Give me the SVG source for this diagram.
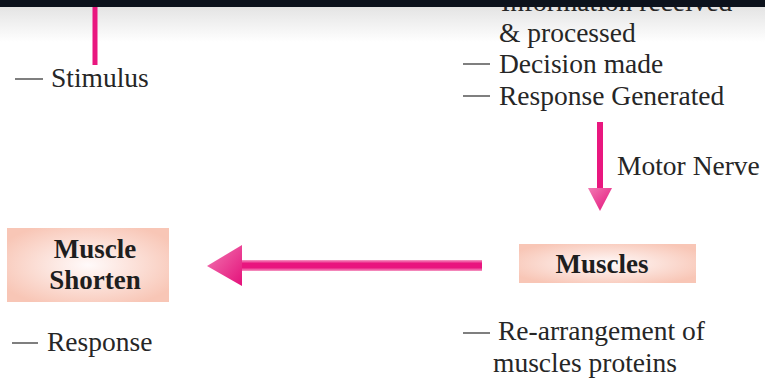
<svg xmlns="http://www.w3.org/2000/svg" width="765" height="380" viewBox="0 0 765 380">
<defs>
<linearGradient id="topShade" x1="0" y1="0" x2="0" y2="1">
<stop offset="0" stop-color="#e4e4e4"/>
<stop offset="1" stop-color="#ffffff"/>
</linearGradient>
<radialGradient id="boxFill" cx="0.5" cy="0.5" r="0.6">
<stop offset="0" stop-color="#fffafa"/>
<stop offset="1" stop-color="#f8c6b6"/>
</radialGradient>
<linearGradient id="shaftFill" x1="0" y1="0" x2="0" y2="1">
<stop offset="0" stop-color="#f59ac4"/>
<stop offset="0.3" stop-color="#e9157f"/>
<stop offset="0.7" stop-color="#e9157f"/>
<stop offset="1" stop-color="#f59ac4"/>
</linearGradient>
<linearGradient id="headFill" x1="0" y1="0" x2="1" y2="1">
<stop offset="0" stop-color="#f27ab3"/>
<stop offset="1" stop-color="#e4107a"/>
</linearGradient>
<style>
.t{font-family:"Liberation Serif","Times New Roman",serif;font-size:27.5px;fill:#262626}
.b{font-family:"Liberation Serif","Times New Roman",serif;font-size:27px;font-weight:bold;fill:#1e1e1e;text-anchor:middle}
.dash{stroke:#555;stroke-width:1.5}
.pink{fill:#e9177f}
</style>
</defs>
<rect width="765" height="380" fill="#ffffff"/>
<rect x="0" y="7" width="765" height="35" fill="url(#topShade)"/>
<g id="brain-notes">
<text class="t" x="501" y="11">Information received</text>
<text class="t" x="499" y="42">&amp; processed</text>
<line class="dash" x1="463" y1="64" x2="490" y2="64"/>
<text class="t" x="499" y="73">Decision made</text>
<line class="dash" x1="463" y1="96" x2="490" y2="96"/>
<text class="t" x="499" y="105">Response Generated</text>
</g>
<rect x="0" y="0" width="765" height="7" fill="#0c121c"/>
<g id="stimulus">
<line class="dash" x1="15" y1="79" x2="43" y2="79"/>
<text class="t" x="51" y="87">Stimulus</text>
</g>
<g id="connectors">
<rect class="pink" x="92.5" y="7" width="5" height="58"/>
<rect class="pink" x="597" y="122" width="6" height="68"/>
<polygon points="588,188 612,188 600,211" fill="url(#headFill)"/>
<rect x="240" y="260" width="242" height="11" fill="url(#shaftFill)"/>
<polygon points="207,266 242,245 242,286" fill="url(#headFill)"/>
</g>
<g id="motor-label">
<text class="t" x="617" y="175">Motor Nerve</text>
</g>
<g id="muscles">
<rect x="519" y="244" width="177" height="39" fill="url(#boxFill)"/>
<text class="b" x="602" y="273">Muscles</text>
</g>
<g id="muscle-shorten">
<rect x="7" y="228" width="162" height="74" fill="url(#boxFill)"/>
<text class="b" x="95" y="258">Muscle</text>
<text class="b" x="95" y="289">Shorten</text>
</g>
<g id="response">
<line class="dash" x1="12" y1="343" x2="38" y2="343"/>
<text class="t" x="47" y="351">Response</text>
</g>
<g id="rearrangement">
<line class="dash" x1="463" y1="333" x2="490" y2="333"/>
<text class="t" x="498" y="340">Re-arrangement of</text>
<text class="t" x="493" y="372">muscles proteins</text>
</g>
</svg>
